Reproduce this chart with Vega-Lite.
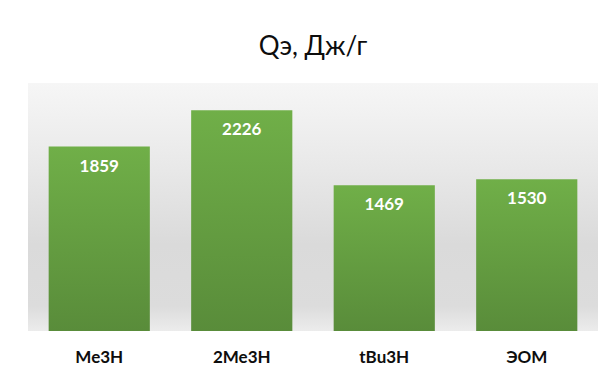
{
  "$schema": "https://vega.github.io/schema/vega-lite/v6.json",
  "width": 570,
  "height": 248,
  "autosize": {"type": "none"},
  "padding": {"left": 28, "top": 83, "right": 5, "bottom": 40},
  "background": "#ffffff",
  "title": {
    "text": "Qэ, Дж/г",
    "font": "Lato",
    "fontSize": 26,
    "fontWeight": "normal",
    "color": "#0d0d0d",
    "anchor": "middle",
    "baseline": "alphabetic",
    "offset": 2
  },
  "data": {
    "values": [
      {"name": "Me3H", "value": 1859},
      {"name": "2Me3H", "value": 2226},
      {"name": "tBu3H", "value": 1469},
      {"name": "ЭОМ", "value": 1530}
    ]
  },
  "encoding": {
    "x": {
      "field": "name",
      "type": "nominal",
      "sort": null,
      "scale": {"paddingInner": 0.29, "paddingOuter": 0.145},
      "axis": {
        "title": null,
        "labelAngle": 0,
        "labelFont": "Lato",
        "labelFontSize": 17,
        "labelFontWeight": "bold",
        "labelColor": "#0d0d0d",
        "labelPadding": 18,
        "domain": false,
        "ticks": false
      }
    },
    "y": {
      "field": "value",
      "type": "quantitative",
      "scale": {"domain": [0, 2500], "nice": false},
      "axis": null
    }
  },
  "layer": [
    {
      "mark": {
        "type": "bar",
        "color": {
          "gradient": "linear",
          "x1": 0, "y1": 0, "x2": 0, "y2": 1,
          "stops": [
            {"offset": 0, "color": "#70af48"},
            {"offset": 1, "color": "#598c3a"}
          ]
        }
      }
    },
    {
      "mark": {
        "type": "text",
        "baseline": "top",
        "dy": 12,
        "font": "Lato",
        "fontSize": 17,
        "fontWeight": "bold",
        "color": "#ffffff"
      },
      "encoding": {"text": {"field": "value", "type": "quantitative"}}
    }
  ],
  "config": {
    "view": {
      "stroke": null,
      "fill": {
        "gradient": "linear",
        "x1": 0, "y1": 0, "x2": 0, "y2": 1,
        "stops": [
          {"offset": 0, "color": "#f6f6f6"},
          {"offset": 0.35, "color": "#e8e8e8"},
          {"offset": 0.65, "color": "#dadada"},
          {"offset": 0.9, "color": "#dcdcdc"},
          {"offset": 1, "color": "#ececec"}
        ]
      }
    }
  }
}
